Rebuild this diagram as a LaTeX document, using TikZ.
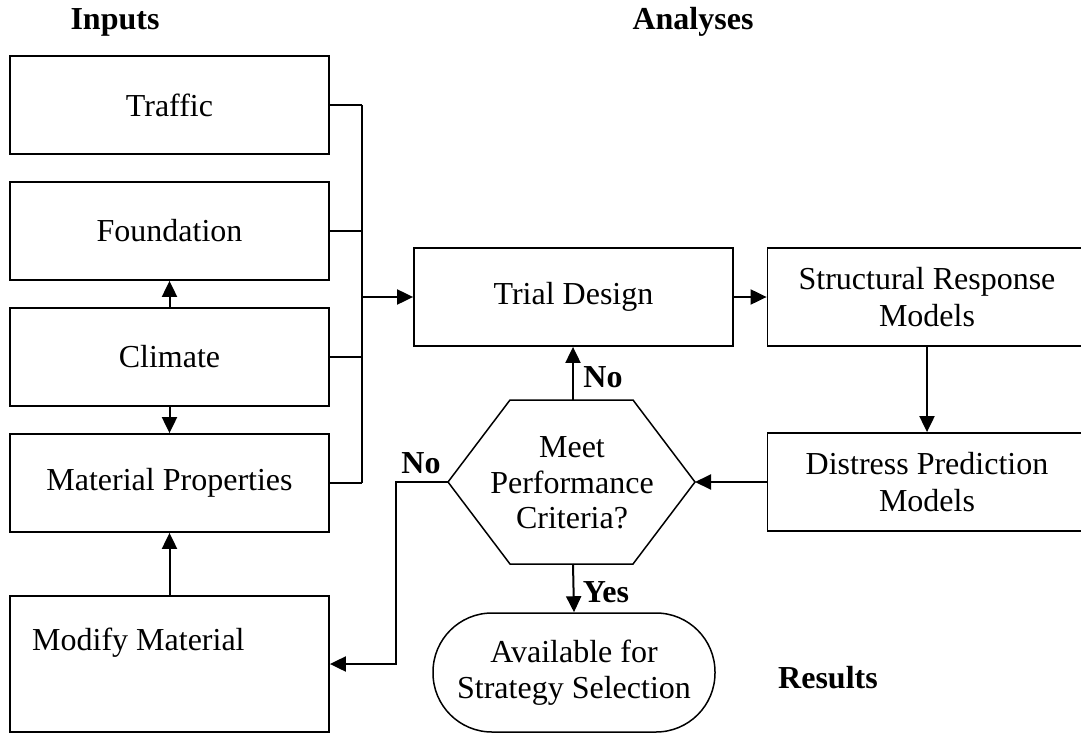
\documentclass[tikz,border=0pt]{standalone}
\usepackage{fontspec}
\setmainfont{Liberation Serif}
\usetikzlibrary{arrows.meta}

\begin{document}
\begin{tikzpicture}[x=1pt,y=-1pt,
  box/.style={draw, line width=1.8pt, inner sep=0pt, minimum width=319pt, minimum height=98pt, align=center,
              font=\fontsize{32}{36.5}\selectfont},
  bodytext/.style={inner sep=0pt, align=center, font=\fontsize{32}{35.5}\selectfont},
  heading/.style={inner sep=0pt, font=\fontsize{32}{36}\selectfont\bfseries},
  tag/.style={inner sep=0pt, font=\fontsize{32}{36}\selectfont\bfseries},
  wire/.style={line width=2pt},
  arr/.style={line width=2pt, -{Triangle[length=16pt,width=15pt]}},
  thin/.style={line width=1.5pt}]
\useasboundingbox (0,0) rectangle (1081,733);

% headings
\node[heading] (hin)  at (115,22)  {Inputs};
\node[heading] (han)  at (693,22)  {Analyses};
\node[heading] (hres) at (828,678) {Results};

% input boxes
\node[box] (traffic) at (169.5,105) {Traffic};
\node[box] (found)   at (169.5,231) {Foundation};
\node[box] (climate) at (169.5,357) {Climate};
\node[box] (matprop) at (169.5,483) {Material Properties};
\node[box, minimum height=136pt] (modify) at (169.5,664) {};
\node[bodytext, anchor=west] (modtext) at (32,643) {Modify Material};

% analysis boxes
\node[box] (trial)    at (573.5,297) {Trial Design};
\node[box] (struct)   at (927,297)   {Structural Response\\Models};
\node[box] (distress) at (927,482)   {Distress Prediction\\Models};

% decision hexagon
\coordinate (hL)  at (448,482);
\coordinate (hTL) at (510,400);
\coordinate (hTR) at (633,400);
\coordinate (hR)  at (695,482);
\coordinate (hBR) at (633,564);
\coordinate (hBL) at (510,564);
\coordinate (hT)  at (573,400);
\coordinate (hB)  at (573,564);
\draw[thin, line join=miter] (hL) -- (hTL) -- (hTR) -- (hR) -- (hBR) -- (hBL) -- cycle;
\node[bodytext] (meet) at (572,483) {Meet\\Performance\\Criteria?};

% result terminal
\node[draw, thin, rounded corners=59pt, minimum width=282pt, minimum height=119pt,
      inner sep=0pt, align=center, font=\fontsize{32}{36}\selectfont] (avail) at (574,672.5)
      {Available for\\Strategy Selection};

% input bus
\coordinate (bus) at (362,297);
\draw[wire] (traffic.east) -- (traffic.east -| bus);
\draw[wire] (found.east)   -- (found.east -| bus);
\draw[wire] (climate.east) -- (climate.east -| bus);
\draw[wire] (matprop.east) -- (matprop.east -| bus);
\draw[wire] (traffic.east -| bus) -- (matprop.east -| bus);
\draw[arr] (bus) -- (trial.west);

% links between input boxes
\draw[arr] (climate.north) -- (found.south);
\draw[arr] (climate.south) -- (matprop.north);
\draw[arr] (modify.north)  -- (matprop.south);

% analysis flow
\draw[arr] (trial.east) -- (struct.west);
\draw[arr] (struct.south) -- (distress.north);
\draw[arr] (distress.west) -- (hR);
\draw[arr] (hT) -- (hT |- trial.south);
\draw[arr] (hB) -- (avail.north);
\coordinate (elbow) at (396,482);
\draw[arr] (hL) -- (elbow) -- (elbow |- modify.east) -- (modify.east);

% branch labels
\node[tag] (noup)   at (603,377) {No};
\node[tag] (noleft) at (421,463) {No};
\node[tag] (yes)    at (606,592) {Yes};
\end{tikzpicture}
\end{document}
